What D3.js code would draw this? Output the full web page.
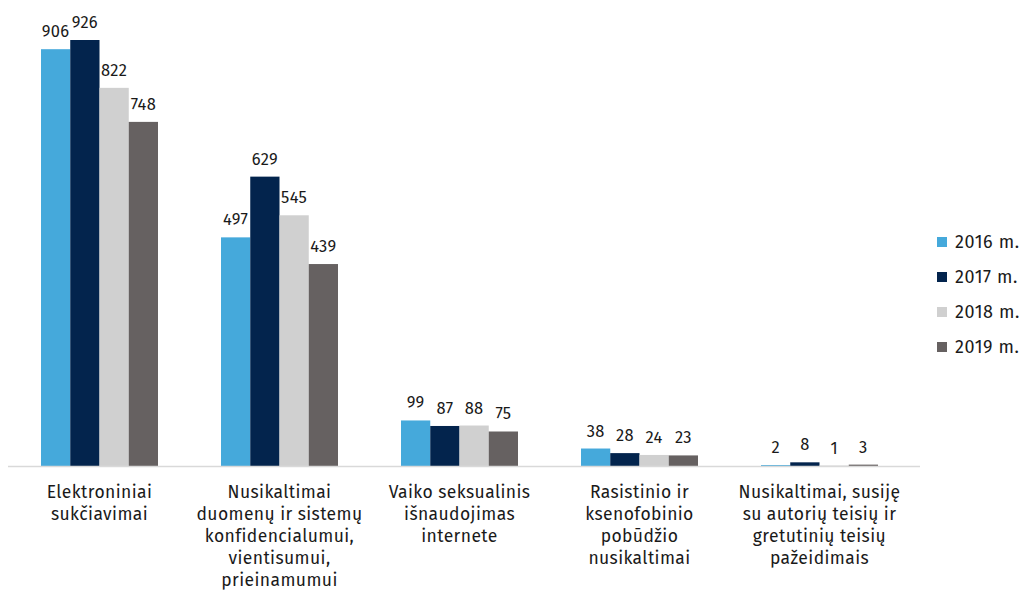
<!DOCTYPE html>
<html>
<head>
<meta charset="utf-8">
<script src="https://cdn.jsdelivr.net/npm/d3@7"></script>
<style>
  body { margin: 0; background: #fff; }
  text { font-family: "Fira Sans", "Roboto", "Noto Sans", sans-serif; fill: #1a1a1a; }
</style>
</head>
<body>
<div id="chart"></div>
<script>
const categories = [
    ['Elektroniniai', 'sukčiavimai'],
    ['Nusikaltimai', 'duomenų ir sistemų', 'konfidencialumui,', 'vientisumui,', 'prieinamumui'],
    ['Vaiko seksualinis', 'išnaudojimas', 'internete'],
    ['Rasistinio ir', 'ksenofobinio', 'pobūdžio', 'nusikaltimai'],
    ['Nusikaltimai, susiję', 'su autorių teisių ir', 'gretutinių teisių', 'pažeidimais']
];
const years = ['2016 m.', '2017 m.', '2018 m.', '2019 m.'];
const values2016 = [906, 497, 99, 38, 2];
const values2017 = [926, 629, 87, 28, 8];
const values2018 = [822, 545, 88, 24, 1];
const values2019 = [748, 439, 75, 23, 3];
const colors = ['#45a9db', '#03244d', '#d0d0d0', '#666161'];

const width = 1021, height = 590;
const baseline = 466;

const series = [values2016, values2017, values2018, values2019];

const svg = d3.select('#chart')
    .append('svg')
    .attr('width', width)
    .attr('height', height);

// Scales
const x0 = d3.scaleBand()
    .domain(d3.range(categories.length))
    .range([9.5, 909.5])
    .paddingInner(0.35)
    .paddingOuter(0.175);

const x1 = d3.scaleBand()
    .domain(d3.range(years.length))
    .range([0, x0.bandwidth()]);

const y = d3.scaleLinear()
    .domain([0, 926])
    .range([baseline, 40]);

// Bars
const groups = svg.append('g')
    .selectAll('g')
    .data(categories)
    .join('g')
    .attr('transform', (d, i) => `translate(${x0(i)},0)`);

groups.selectAll('rect')
    .data((d, i) => series.map((s, k) => ({ k, v: s[i] })))
    .join('rect')
    .attr('x', d => x1(d.k))
    .attr('width', x1.bandwidth())
    .attr('y', d => y(d.v))
    .attr('height', d => baseline - y(d.v))
    .style('fill', d => colors[d.k]);

// Value labels
groups.selectAll('text.val')
    .data((d, i) => series.map((s, k) => ({ k, v: s[i] })))
    .join('text')
    .attr('class', 'val')
    .attr('x', d => x1(d.k) + x1.bandwidth() / 2)
    .attr('y', d => y(d.v) - 12)
    .attr('text-anchor', 'middle')
    .style('font-size', '16.5px')
    .style('letter-spacing', '0.3px')
    .text(d => d.v);

// Axis line
svg.append('line')
    .attr('x1', 8)
    .attr('x2', 920)
    .attr('y1', baseline + 0.5)
    .attr('y2', baseline + 0.5)
    .style('stroke', '#d9d9d9')
    .style('stroke-width', 1.5);

// Category labels
const catLabels = svg.append('g')
    .selectAll('text')
    .data(categories)
    .join('text')
    .attr('x', (d, i) => x0(i) + x0.bandwidth() / 2)
    .attr('y', 498)
    .attr('text-anchor', 'middle')
    .style('font-size', '17.5px')
    .style('letter-spacing', '0.4px');

catLabels.selectAll('tspan')
    .data(d => d)
    .join('tspan')
    .attr('x', function() { return d3.select(this.parentNode).attr('x'); })
    .attr('dy', (d, i) => i === 0 ? 0 : 22)
    .text(d => d);

// Legend
const legend = svg.append('g')
    .selectAll('g')
    .data(years)
    .join('g')
    .attr('transform', (d, i) => `translate(937,${242 + i * 35})`);

legend.append('rect')
    .attr('x', 0)
    .attr('y', -5)
    .attr('width', 10)
    .attr('height', 10)
    .style('fill', (d, i) => colors[i]);

legend.append('text')
    .attr('x', 18)
    .attr('dy', '0.35em')
    .style('font-size', '18px')
    .style('letter-spacing', '0.6px')
    .text(d => d);
</script>
</body>
</html>
